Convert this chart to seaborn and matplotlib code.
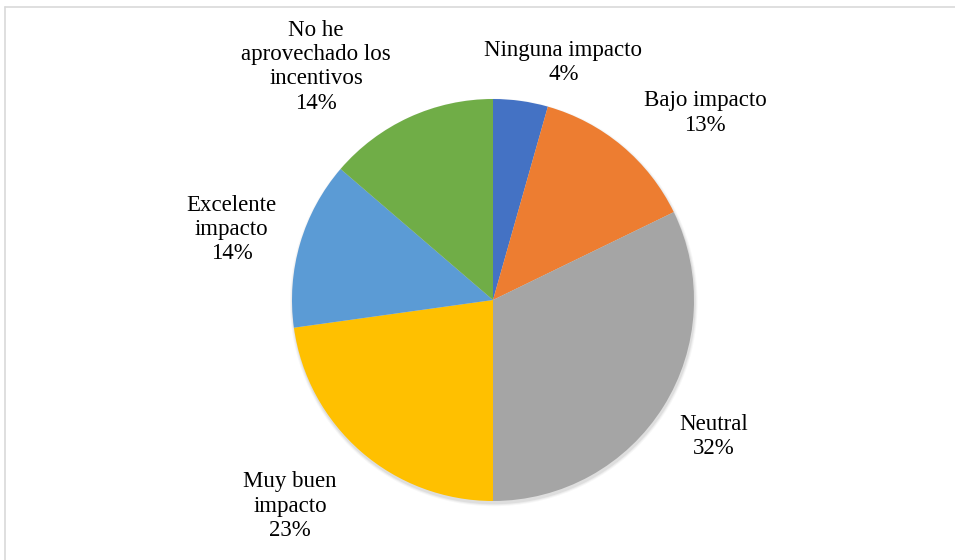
import seaborn as sns
import matplotlib.pyplot as plt
from matplotlib.lines import Line2D
from matplotlib.patches import Circle

categories = ["Ninguna impacto", "Bajo impacto", "Neutral", "Muy buen\nimpacto",
              "Excelente\nimpacto", "No he\naprovechado los\nincentivos"]
# shares in percent
values = [4.4, 13.4, 32.2, 22.8, 13.5, 13.7]
colors = ["#4472C4", "#ED7D31", "#A5A5A5", "#FFC000", "#5B9BD5", "#70AD47"]

# label anchor positions (in pie radius units)
label_pos = [(0.35, 1.18), (1.055, 0.93), (1.10, -0.68),
             (-1.01, -1.025), (-1.30, 0.35), (-0.88, 1.16)]

sns.set_style("white")
plt.rcParams['font.family'] = ['Liberation Serif', 'DejaVu Serif']

fig = plt.figure(figsize=(9.55, 5.6), dpi=100)
ax = fig.add_axes([0, 0, 1, 1])

# soft shadow under the pie
for k, a in [(0.014, 0.03), (0.009, 0.045), (0.004, 0.06)]:
    ax.add_patch(Circle((0.004, -0.012), 1 + k, facecolor="black", alpha=a,
                        edgecolor="none", zorder=0))

ax.pie(values, colors=colors, startangle=90, counterclock=False, radius=1,
       wedgeprops=dict(edgecolor="none", linewidth=0))

total = sum(values)
for cat, v, (x, y) in zip(categories, values, label_pos):
    ax.text(x, y, f"{cat}\n{round(v / total * 100)}%", ha="center", va="center",
            fontsize=16.5, linespacing=1.2, color="black")

R = 201.0
ax.set_xlim(-493 / R, (955 - 493) / R)
ax.set_ylim(-(560 - 300) / R, 300 / R)
ax.set_aspect("equal")
ax.axis("off")

# chart area frame (cropped on right and bottom)
fig.add_artist(Line2D([5 / 955, 5 / 955], [0, 1 - 7 / 560], transform=fig.transFigure,
                      color="#D9D9D9", linewidth=1.2))
fig.add_artist(Line2D([5 / 955, 1], [1 - 7 / 560, 1 - 7 / 560], transform=fig.transFigure,
                      color="#D9D9D9", linewidth=1.2))

fig.savefig("out.png", dpi=100)
